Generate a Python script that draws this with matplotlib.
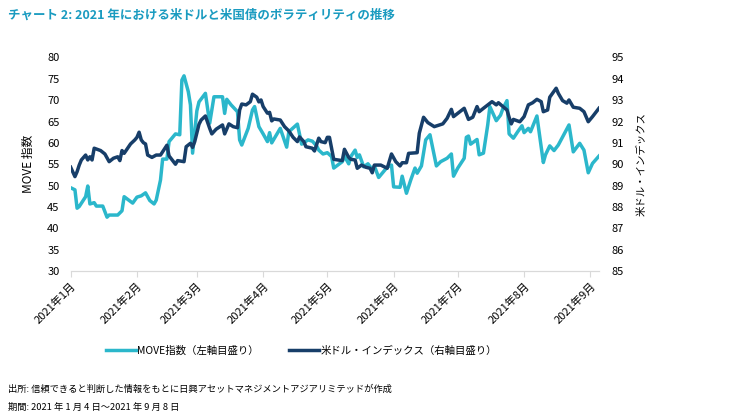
import pandas as pd
import matplotlib.pyplot as plt
import matplotlib.dates as mdates

plt.rcParams['font.family'] = ['Noto Sans CJK JP', 'DejaVu Sans']

start_date = '2021-01-04'
end_date = '2021-09-08'

# MOVE index (left axis), days counted from 2021-01-04
move_days = [0, 2, 3, 4, 7, 8, 9, 11, 12, 15,
             17, 18, 22, 24, 25, 29, 31, 33, 35, 37,
             39, 40, 42, 43, 45, 46, 49, 51, 52, 53,
             55, 56, 57, 59, 60, 63, 65, 67, 71, 72,
             73, 75, 78, 79, 80, 83, 85, 86, 88, 90,
             92, 93, 94, 98, 101, 102, 106, 108, 111, 113,
             115, 116, 118, 120, 122, 123, 127, 128, 130, 131,
             133, 134, 135, 137, 139, 141, 142, 144, 148, 150,
             151, 154, 155, 157, 159, 161, 162, 164, 166, 168,
             171, 173, 176, 178, 179, 181, 184, 185, 186, 187,
             190, 191, 193, 195, 196, 199, 201, 202, 204, 205,
             207, 209, 211, 212, 214, 215, 218, 221, 222, 224,
             226, 228, 233, 235, 238, 240, 242, 244, 247]
move_vals = [49.5, 49.0, 44.7, 45.1, 47.4, 49.9, 45.7, 46.0, 45.2, 45.2,
             42.6, 43.1, 43.1, 44.1, 47.4, 45.9, 47.3, 47.6, 48.3, 46.5,
             45.7, 46.6, 51.3, 56.2, 56.2, 60.3, 62.1, 61.9, 74.7, 75.7,
             72.0, 68.9, 57.6, 67.5, 69.6, 71.6, 64.6, 70.8, 70.8, 66.9,
             70.2, 68.9, 67.3, 60.7, 59.5, 63.4, 67.7, 68.5, 63.8, 62.1,
             60.3, 62.4, 60.0, 63.4, 59.0, 62.6, 64.4, 59.7, 60.7, 60.4,
             59.3, 58.3, 57.4, 57.7, 56.8, 54.1, 55.6, 56.9, 55.1, 56.8,
             58.3, 56.6, 57.2, 54.4, 55.1, 53.8, 54.6, 51.9, 54.3, 54.8,
             49.7, 49.6, 52.2, 48.2, 51.3, 54.1, 52.9, 54.6, 60.7, 61.9,
             54.6, 55.6, 56.4, 57.4, 52.2, 54.1, 56.4, 61.3, 61.6, 59.7,
             60.8, 57.2, 57.6, 64.2, 68.5, 65.2, 66.5, 67.9, 69.9, 62.1,
             61.1, 62.6, 64.0, 62.4, 63.4, 62.6, 66.3, 55.4, 57.2, 59.3,
             58.2, 59.5, 64.2, 57.9, 59.9, 58.3, 53.0, 55.2, 56.9]

# US dollar index (right axis)
dxy_days = [0, 2, 3, 4, 5, 7, 8, 9, 10, 11,
            14, 16, 18, 20, 22, 23, 24, 25, 28, 30,
            31, 32, 33, 34, 35, 36, 38, 40, 42, 45,
            46, 49, 50, 53, 54, 56, 57, 58, 60, 61,
            63, 65, 66, 68, 71, 72, 74, 76, 78, 79,
            80, 82, 84, 85, 87, 88, 89, 90, 92, 93,
            94, 95, 98, 100, 102, 104, 106, 107, 109, 110,
            113, 114, 116, 117, 119, 120, 121, 123, 127, 128,
            130, 131, 133, 134, 136, 138, 140, 141, 142, 145,
            148, 150, 152, 154, 155, 157, 158, 162, 163, 165,
            167, 170, 174, 176, 178, 179, 184, 186, 188, 190,
            191, 193, 197, 199, 200, 204, 205, 206, 207, 210,
            212, 214, 216, 218, 220, 221, 223, 224, 227, 228,
            230, 232, 233, 235, 238, 240, 242, 244, 247]
dxy_vals = [89.86, 89.42, 89.65, 89.96, 90.2, 90.43, 90.2, 90.35, 90.2, 90.75,
            90.64, 90.48, 90.12, 90.28, 90.35, 90.17, 90.64, 90.51, 90.95, 91.14,
            91.26, 91.5, 91.14, 91.01, 90.95, 90.43, 90.32, 90.43, 90.43, 90.89,
            90.39, 90.0, 90.17, 90.12, 90.82, 90.98, 90.79, 91.06, 91.87, 92.07,
            92.26, 91.68, 91.42, 91.64, 91.84, 91.42, 91.89, 91.76, 91.71, 92.54,
            92.82, 92.78, 92.93, 93.28, 93.14, 92.92, 93.01, 92.7, 92.39, 92.43,
            92.03, 92.12, 92.07, 91.76, 91.56, 91.26, 91.06, 91.28, 91.06, 90.82,
            90.75, 90.62, 91.22, 91.06, 91.01, 91.26, 91.26, 90.23, 90.17, 90.7,
            90.32, 90.23, 90.2, 89.81, 89.96, 89.86, 89.81, 89.6, 89.96, 89.96,
            89.81, 90.48, 90.12, 89.92, 90.07, 90.07, 90.51, 90.54, 91.45, 92.2,
            91.95, 91.76, 91.89, 92.15, 92.57, 92.23, 92.62, 92.1, 92.2, 92.7,
            92.46, 92.62, 92.93, 92.78, 92.88, 92.54, 92.2, 91.89, 92.1, 91.99,
            92.23, 92.78, 92.88, 93.04, 92.93, 92.46, 92.54, 93.14, 93.56, 93.32,
            92.98, 92.86, 93.01, 92.67, 92.62, 92.46, 91.99, 92.23, 92.62]

month_labels = ['2021年1月', '2021年2月', '2021年3月', '2021年4月', '2021年5月',
                '2021年6月', '2021年7月', '2021年8月', '2021年9月']

title = 'チャート 2: 2021 年における米ドルと米国債のボラティリティの推移'
source_note = '出所: 信頼できると判断した情報をもとに日興アセットマネジメントアジアリミテッドが作成'
period_note = '期間: 2021 年 1 月 4 日～2021 年 9 月 8 日'

cyan = '#2bb7cb'
navy = '#173e69'
grid_grey = '#d9d9d9'

start = pd.Timestamp(start_date)
move_dates = start + pd.to_timedelta(move_days, unit='D')
dxy_dates = start + pd.to_timedelta(dxy_days, unit='D')
tick_dates = pd.date_range(start_date, periods=len(month_labels), freq=pd.DateOffset(months=1))

fig = plt.figure(figsize=(7.47, 4.18), dpi=100)
ax = fig.add_axes([0.0946, 0.3517, 0.7072, 0.5108])
ax2 = ax.twinx()

l1, = ax.plot(move_dates, move_vals, color=cyan, lw=2.5, solid_joinstyle='round')
l2, = ax2.plot(dxy_dates, dxy_vals, color=navy, lw=2.5, solid_joinstyle='round')

ax.set_xlim(start, pd.Timestamp(end_date))
ax.set_ylim(30, 80)
ax.set_yticks(range(30, 81, 5))
ax2.set_ylim(85, 95)
ax2.set_yticks(range(85, 96, 1))

ax.set_xticks(tick_dates)
ax.set_xticklabels(month_labels, rotation=45, ha='right', rotation_mode='anchor', fontsize=8)

for a in (ax, ax2):
    for s in ('top', 'left', 'right'):
        a.spines[s].set_visible(False)
    a.spines['bottom'].set_color(grid_grey)
ax.tick_params(axis='y', length=0, pad=8, labelsize=8)
ax2.tick_params(axis='y', length=0, pad=9, labelsize=8)
ax.tick_params(axis='x', length=4, color=grid_grey, pad=3)

ax.set_ylabel('MOVE 指数', fontsize=8.5)
ax.yaxis.set_label_coords(-0.068, 0.5)
ax2.set_ylabel('米ドル・インデックス', fontsize=7.5, rotation=90)
ax2.yaxis.set_label_coords(1.072, 0.5)

fig.text(8 / 747, 1 - 15 / 418, title, fontsize=9, fontweight='bold',
         color='#1a9bc0', va='center', ha='left')

fig.legend(handles=[l1, l2], labels=['MOVE指数（左軸目盛り）', '米ドル・インデックス（右軸目盛り）'],
           loc='center left', bbox_to_anchor=(106 / 747, 1 - 351 / 418), ncol=2,
           frameon=False, fontsize=7.5, handlelength=2.9, handletextpad=0.1,
           columnspacing=2.9, borderpad=0, borderaxespad=0)

fig.text(8 / 747, 1 - 389 / 418, source_note, fontsize=6.7, va='center', ha='left')
fig.text(8 / 747, 1 - 407 / 418, period_note, fontsize=6.7, va='center', ha='left')

fig.savefig('out.png', dpi=100)
